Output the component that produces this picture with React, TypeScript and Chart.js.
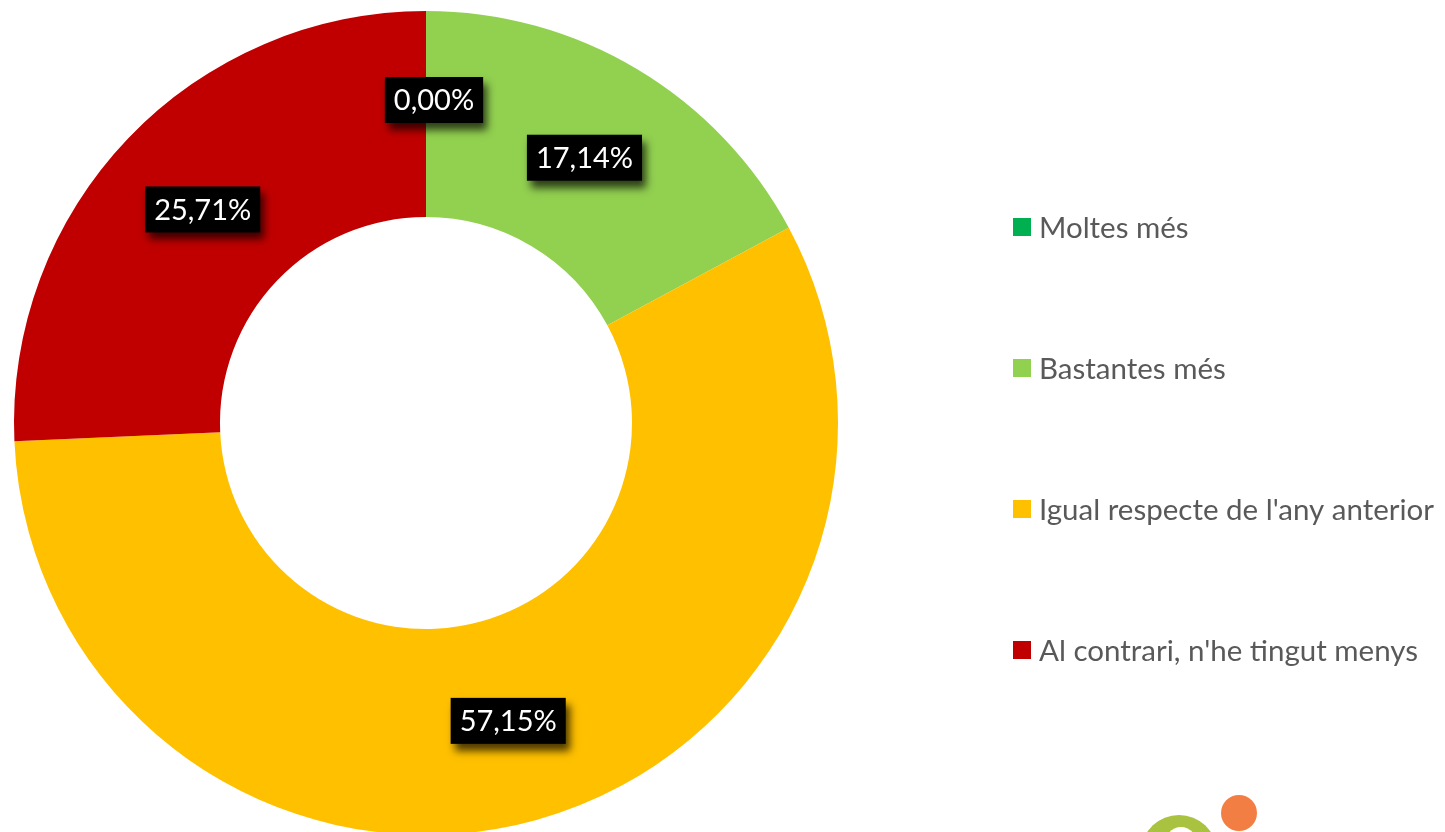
import React, { useEffect, useRef } from "react";
import { Chart, registerables } from "chart.js";

Chart.register(...registerables);

const categories = [
  "Moltes més",
  "Bastantes més",
  "Igual respecte de l'any anterior",
  "Al contrari, n'he tingut menys",
];
const values = [0, 17.14, 57.15, 25.71];
const colors = ["#00B050", "#92D050", "#FFC000", "#C00000"];

const FONT = "Lato, 'Open Sans', sans-serif";

const fmt = (v: number) => v.toFixed(2).replace(".", ",") + "%";

const labelPlugin = {
  id: "boxLabels",
  afterDatasetsDraw(chart: any) {
    const ctx = chart.ctx;
    const meta = chart.getDatasetMeta(0);
    ctx.save();
    ctx.font = `29px ${FONT}`;
    meta.data.forEach((arc: any, i: number) => {
      const p = arc.getProps(["x", "y", "startAngle", "endAngle", "innerRadius", "outerRadius"], true);
      const a = (p.startAngle + p.endAngle) / 2;
      const r = (p.innerRadius + p.outerRadius) / 2;
      let cx = p.x + Math.cos(a) * r;
      let cy = p.y + Math.sin(a) * r;
      if (values[i] === 0) {
        cx += 8;
        cy -= 14;
      }
      const text = fmt(values[i]);
      const w = ctx.measureText(text).width + 18;
      const h = 46;
      ctx.save();
      ctx.shadowColor = "rgba(0,0,0,0.7)";
      ctx.shadowBlur = 8;
      ctx.shadowOffsetX = 4;
      ctx.shadowOffsetY = 7;
      ctx.fillStyle = "#000";
      ctx.fillRect(cx - w / 2, cy - h / 2, w, h);
      ctx.restore();
      ctx.fillStyle = "#fff";
      ctx.textAlign = "center";
      ctx.textBaseline = "middle";
      ctx.fillText(text, cx, cy + 1);
    });
    ctx.restore();
  },
};

const legendPlugin = {
  id: "sideLegend",
  afterDraw(chart: any) {
    const ctx = chart.ctx;
    ctx.save();
    ctx.font = `29.5px ${FONT}`;
    ctx.textBaseline = "middle";
    ctx.textAlign = "left";
    categories.forEach((c, i) => {
      const y = 227 + i * 141;
      ctx.fillStyle = colors[i];
      ctx.fillRect(1013, y - 9, 18, 18);
      ctx.fillStyle = "#595959";
      ctx.fillText(c, 1039, y + 1);
    });
    // logo fragment
    ctx.fillStyle = "#A9C23F";
    ctx.beginPath();
    ctx.ellipse(1179, 850, 37, 35, 0, 0, Math.PI * 2);
    ctx.fill();
    ctx.fillStyle = "#fff";
    ctx.beginPath();
    ctx.ellipse(1181, 846, 17, 19, 0, 0, Math.PI * 2);
    ctx.fill();
    ctx.fillStyle = "#F37E43";
    ctx.beginPath();
    ctx.arc(1239, 813, 18, 0, Math.PI * 2);
    ctx.fill();
    ctx.restore();
  },
};

export default function App() {
  const ref = useRef<HTMLCanvasElement>(null);
  useEffect(() => {
    if (!ref.current) return;
    const chart = new Chart(ref.current, {
      type: "doughnut",
      data: {
        labels: categories,
        datasets: [
          {
            data: values,
            backgroundColor: colors,
            borderWidth: 0,
          },
        ],
      },
      options: {
        animation: false,
        responsive: false,
        devicePixelRatio: 1,
        cutout: "50%",
        layout: { padding: { left: 14, right: 607, top: 11, bottom: 5 } },
        plugins: {
          legend: { display: false },
          tooltip: { enabled: false },
        },
      },
      plugins: [labelPlugin, legendPlugin],
    });
    return () => chart.destroy();
  }, []);
  return (
    <div style={{ position: "fixed", left: 0, top: 0, width: 1445, height: 832, overflow: "hidden", background: "#fff" }}>
      <canvas ref={ref} width={1445} height={840} style={{ display: "block" }} />
    </div>
  );
}
